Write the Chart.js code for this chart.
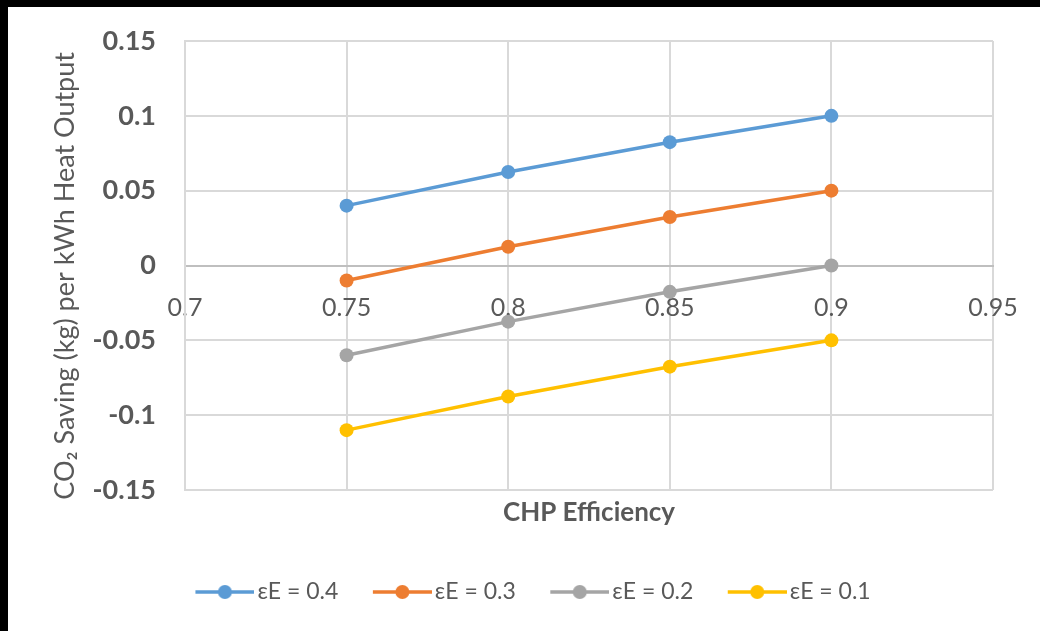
<!DOCTYPE html>
<html>
<head>
<meta charset="utf-8">
<script src="https://cdn.jsdelivr.net/npm/chart.js@4.4.1/dist/chart.umd.min.js"></script>
<style>
  html, body { margin: 0; padding: 0; background: #000; }
  #wrap { position: absolute; left: 8px; top: 7px; width: 1032px; height: 624px; background: #fff; }
</style>
</head>
<body>
<div id="wrap"><canvas id="c"></canvas></div>
<script>
// ---- data ----
const efficiency = [0.75, 0.8, 0.85, 0.9];
const seriesNames = ['εE = 0.4', 'εE = 0.3', 'εE = 0.2', 'εE = 0.1'];
const e04 = [0.04, 0.0625, 0.0824, 0.1];
const e03 = [-0.01, 0.0125, 0.0324, 0.05];
const e02 = [-0.06, -0.0375, -0.0176, 0];
const e01 = [-0.11, -0.0875, -0.0676, -0.05];
const xTicks = [0.7, 0.75, 0.8, 0.85, 0.9, 0.95];
const yTicks = [-0.15, -0.1, -0.05, 0, 0.05, 0.1, 0.15];
const xTitle = 'CHP Efficiency';
const yTitle = 'CO\u2082 Saving (kg) per kWh Heat Output';

const colors = ['#5B9BD5', '#ED7D31', '#A5A5A5', '#FFC000'];
const seriesValues = [e04, e03, e02, e01];
const TXT = '#595959';
const GRID = '#D9D9D9';
const FONT = 'Lato, "Noto Sans", sans-serif';

function legendIcon(color) {
  const c = document.createElement('canvas');
  c.width = 92; c.height = 16;
  const g = c.getContext('2d');
  g.strokeStyle = color; g.lineWidth = 3.5;
  g.beginPath(); g.moveTo(33, 8); g.lineTo(92, 8); g.stroke();
  g.fillStyle = color;
  g.beginPath(); g.arc(62.5, 8, 7, 0, Math.PI * 2); g.fill();
  return c;
}
const icons = colors.map(legendIcon);

const datasets = seriesValues.map((vals, i) => ({
  label: seriesNames[i],
  data: vals.map((v, j) => ({ x: efficiency[j], y: v })),
  borderColor: colors[i],
  backgroundColor: colors[i],
  borderWidth: 3.5,
  pointRadius: 7,
  pointHoverRadius: 7,
  pointBorderWidth: 0,
  pointBackgroundColor: colors[i],
  tension: 0,
  fill: false
}));

Chart.defaults.font.family = FONT;
Chart.defaults.color = TXT;

const PAD_LEFT = 40.6;

new Chart(document.getElementById('c'), {
  type: 'line',
  data: { datasets },
  options: {
    responsive: true,
    maintainAspectRatio: false,
    animation: false,
    events: [],
    layout: { padding: { left: PAD_LEFT, right: 47, top: 34, bottom: 17.5 } },
    scales: {
      x: {
        type: 'linear',
        position: { y: 0 },
        min: 0.7, max: 0.95,
        afterBuildTicks: s => { s.ticks = xTicks.map(v => ({ value: v })); },
        ticks: { callback: v => String(v), font: { size: 25 }, color: TXT, padding: 0, maxRotation: 0, autoSkip: false },
        grid: { color: GRID, lineWidth: 2, drawTicks: true, tickLength: 27, tickColor: 'rgba(0,0,0,0)' },
        border: { display: true, color: '#BFBFBF', width: 2 },
        title: { display: false }
      },
      xt: {
        type: 'linear',
        axis: 'x',
        position: 'bottom',
        min: 0.7, max: 0.95,
        afterFit: s => { s.height = 80.5; },
        ticks: { display: false },
        grid: { display: false, drawTicks: false },
        border: { display: false },
        title: { display: true, text: xTitle, font: { size: 26, weight: 'bold' }, color: TXT, padding: { top: 0, bottom: 42 } }
      },
      y: {
        type: 'linear',
        position: 'left',
        min: -0.15, max: 0.15,
        afterBuildTicks: s => { s.ticks = yTicks.map(v => ({ value: v })); },
        afterFit: s => { s.width = 177 - PAD_LEFT; },
        ticks: { callback: v => String(v), font: { size: 27, weight: 'bold' }, color: TXT, padding: 0 },
        grid: { color: GRID, lineWidth: 2, drawTicks: true, tickLength: 29, tickColor: 'rgba(0,0,0,0)' },
        border: { display: true, color: GRID, width: 2 },
        title: { display: true, text: yTitle + '\u00a0\u00a0\u00a0', font: { size: 27 }, color: TXT, padding: { top: 0, bottom: 0 } }
      }
    },
    plugins: {
      tooltip: { enabled: false },
      legend: {
        position: 'bottom',
        labels: {
          usePointStyle: true,
          pointStyleWidth: 75,
          padding: 10,
          font: { size: 23 },
          color: TXT,
          generateLabels: chart => Chart.defaults.plugins.legend.labels.generateLabels(chart)
            .map((l, i) => Object.assign(l, { pointStyle: icons[i] }))
        }
      }
    }
  }
});
</script>
</body>
</html>
